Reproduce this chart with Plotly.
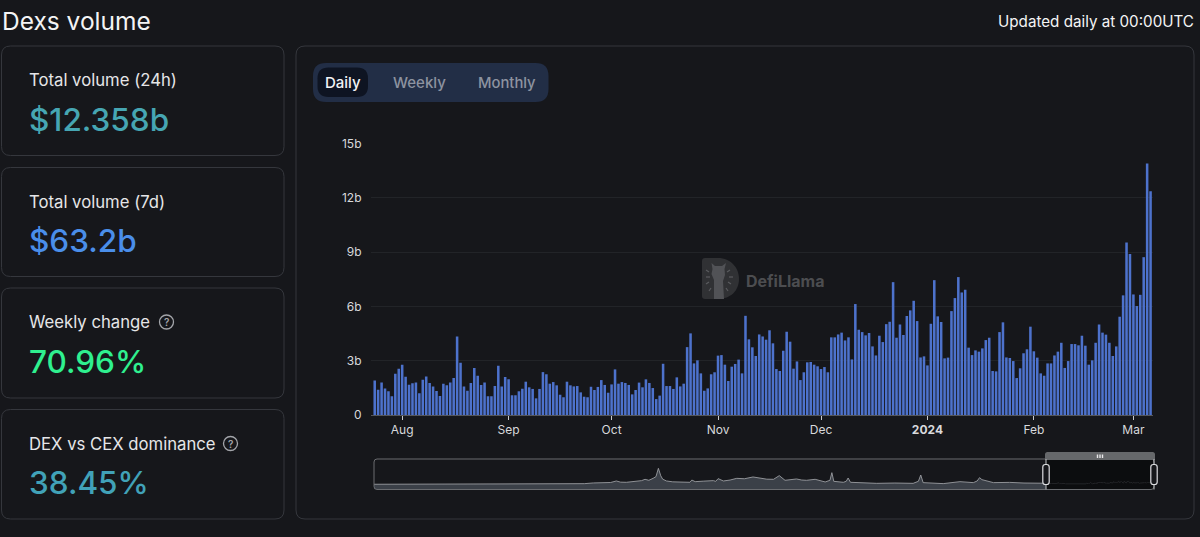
import pandas as pd
import plotly.graph_objects as go

W, H = 1200, 537

# Daily DEX volume in billions of USD, 2023-07-24 to 2024-03-06
volume_jul_oct = [
    1.91, 1.40, 1.79, 1.47, 1.31, 1.03, 2.28, 2.56, 2.78, 2.12, 1.67, 1.75, 1.79, 1.20, 1.95, 2.13,
    1.77, 1.58, 1.33, 1.05, 1.73, 1.64, 1.79, 2.04, 4.34, 2.89, 1.58, 1.34, 1.77, 2.60, 2.17, 1.66,
    1.79, 1.03, 1.03, 1.60, 2.72, 1.58, 2.10, 1.97, 1.09, 1.09, 1.31, 1.45, 1.84, 1.53, 1.44, 0.92,
    1.44, 2.37, 2.25, 1.73, 1.82, 1.64, 1.12, 0.98, 1.84, 1.64, 1.58, 1.60, 1.25, 1.01, 0.98, 1.56,
    1.38, 1.55, 1.93, 1.66, 1.23, 1.69, 2.52, 1.73, 1.82, 1.77, 1.66, 1.14, 1.38, 1.79, 1.53, 1.97,
    1.77, 1.49, 0.88, 1.07, 2.83, 1.60, 1.60, 1.44, 2.08, 1.58, 1.73, 3.75, 4.51, 2.85, 3.02, 2.30,
    1.34, 1.47, 2.25, 2.36,
]
volume_nov_dec = [
    3.28, 3.31, 2.78, 1.88, 2.67, 2.82, 3.06, 2.30, 5.48, 4.18, 3.74, 3.26, 4.45, 4.34, 4.16, 4.68,
    3.96, 2.54, 2.43, 3.55, 4.60, 4.05, 2.56, 2.96, 1.93, 2.36, 2.91, 2.93, 2.78, 2.69, 2.54, 2.65,
    2.36, 4.29, 4.29, 4.45, 4.55, 4.12, 4.29, 3.07, 6.13, 4.71, 4.58, 4.40, 4.53, 3.79, 3.29, 4.38,
    4.03, 5.02, 5.15, 7.34, 4.27, 5.00, 4.42, 5.47, 5.78, 6.31, 5.19, 3.18, 3.24,
]
volume_jan_mar = [
    2.74, 5.04, 7.45, 5.45, 5.14, 3.13, 3.17, 5.74, 6.46, 7.62, 6.77, 6.92, 3.72, 3.31, 3.57, 3.50,
    3.68, 4.14, 4.27, 2.43, 2.41, 4.58, 5.12, 3.18, 3.15, 2.98, 2.04, 2.58, 3.41, 3.63, 4.88, 3.52,
    3.17, 2.30, 2.17, 2.85, 2.85, 3.29, 3.50, 3.99, 2.60, 2.98, 3.92, 3.92, 3.85, 4.38, 3.83, 2.78,
    3.02, 3.99, 5.00, 4.55, 4.44, 3.99, 3.26, 3.79, 5.43, 6.61, 9.53, 8.89, 6.66, 6.02, 6.64, 8.72,
    13.90, 12.358,
]
volume = volume_jul_oct + volume_nov_dec + volume_jan_mar
dates = pd.date_range("2023-07-24", "2024-03-06")
assert len(dates) == len(volume)

# Long-run history for the range selector, days since the start of the series
history_start = pd.Timestamp("2019-09-16")
history_days = [
    0, 315, 322, 440, 459, 480, 495, 507, 516, 528, 548, 560, 567, 575, 584, 590, 595, 600, 604, 612,
    625, 640, 661, 665, 672, 690, 710, 715, 720, 731, 745, 759, 775, 793, 808, 822, 836, 848, 860,
    872, 884, 895, 905, 923, 944, 954, 958, 962, 982, 988, 992, 997, 1020, 1052, 1090, 1128, 1139,
    1144, 1149, 1170, 1191, 1226, 1254, 1262, 1267, 1272, 1296, 1330, 1360, 1406,
]
history_values = [
    0.1, 0.1, 1.2, 1.5, 3.2, 3.9, 4.2, 7.8, 5.0, 4.7, 6.2, 8.6, 11.7, 9.4, 14.0, 18.0, 37.4, 20.0,
    12.0, 7.8, 5.8, 5.5, 4.7, 10.0, 6.2, 7.5, 8.6, 7.0, 13.3, 7.8, 10.0, 14.0, 13.0, 17.2, 14.0,
    12.0, 11.7, 20.3, 9.4, 11.0, 12.5, 10.0, 9.4, 11.7, 5.5, 9.4, 27.3, 7.0, 4.7, 7.0, 14.8, 4.7,
    3.5, 2.3, 3.0, 2.3, 7.0, 21.8, 3.9, 3.0, 1.6, 6.2, 3.9, 7.8, 15.6, 10.9, 3.9, 4.5, 3.0, 2.5,
]
history_dates = [history_start + pd.Timedelta(days=d) for d in history_days]

y_ticks = [0, 3, 6, 9, 12, 15]
y_labels = ["0", "3b", "6b", "9b", "12b", "15b"]
month_ticks = ["2023-08-01", "2023-09-01", "2023-10-01", "2023-11-01", "2023-12-01",
               "2024-01-01", "2024-02-01", "2024-03-01"]
month_labels = ["Aug", "Sep", "Oct", "Nov", "Dec", "<b>2024</b>", "Feb", "Mar"]

cards = [
    ("Total volume (24h)", "$12.358b", "#46a6b3", 46, 155.5),
    ("Total volume (7d)", "$63.2b", "#4a8eea", 167.5, 276.5),
    ("Weekly change", "70.96%", "#2ff08f", 288, 398),
    ("DEX vs CEX dominance", "38.45%", "#41a2b8", 409.5, 519),
]

BG = "#16171b"
BORDER = "#35373d"
FONT = "Inter"


def px(x):
    return x / W


def py(y):
    return 1 - y / H


def rounded(x0, y0, x1, y1, r, corners="all"):
    """SVG path of a rounded box, given in page pixels."""
    rb = 0 if corners == "top" else r
    pts = [
        f"M{px(x0 + r)},{py(y0)}", f"L{px(x1 - r)},{py(y0)}",
        f"Q{px(x1)},{py(y0)} {px(x1)},{py(y0 + r)}",
        f"L{px(x1)},{py(y1 - rb)}", f"Q{px(x1)},{py(y1)} {px(x1 - rb)},{py(y1)}",
        f"L{px(x0 + rb)},{py(y1)}", f"Q{px(x0)},{py(y1)} {px(x0)},{py(y1 - rb)}",
        f"L{px(x0)},{py(y0 + r)}", f"Q{px(x0)},{py(y0)} {px(x0 + r)},{py(y0)}", "Z",
    ]
    return "".join(pts)


def box(x0, y0, x1, y1, r, fill=None, line=None, width=1, layer="below", corners="all"):
    return dict(type="path", xref="paper", yref="paper", path=rounded(x0, y0, x1, y1, r, corners),
                fillcolor=fill or "rgba(0,0,0,0)", line=dict(color=line or "rgba(0,0,0,0)", width=width if line else 0),
                layer=layer)


def polygon(points, fill):
    body = "L".join(f"{px(x)},{py(y)}" for x, y in points)
    return dict(type="path", xref="paper", yref="paper", path=f"M{body}Z", fillcolor=fill,
                line=dict(width=0), layer="below")


def text(x, y, s, size, color, anchor="left", weight=None):
    return dict(xref="paper", yref="paper", x=px(x), y=py(y), text=s, showarrow=False,
                xanchor=anchor, yanchor="middle", align=anchor, borderpad=0,
                font=dict(family=FONT, size=size, color=color, weight=weight))


shapes, notes = [], []

# Page heading
notes.append(text(1, 21, "Dexs volume", 24.5, "#f4f4f5"))
notes.append(text(1195, 21, "Updated daily at 00:00UTC", 15.2, "#f4f4f5", "right"))

# Stat cards on the left
for label, value, colour, top, bottom in cards:
    shapes.append(box(1.5, top, 284, bottom, 9, line=BORDER))
    notes.append(text(28, top + 34, label, 16.7, "#e6e6e8"))
    notes.append(text(27.5, top + 73, value, 31.5, colour, weight=500))

# Help markers beside two of the card labels
for cx, cy in [(166.5, 322), (230.5, 443.5)]:
    shapes.append(dict(type="circle", xref="paper", yref="paper", x0=px(cx - 7), x1=px(cx + 7),
                       y0=py(cy + 7), y1=py(cy - 7), line=dict(color="#a3a5aa", width=1.3), layer="below"))
    notes.append(text(cx, cy, "?", 10, "#a3a5aa", "center", 600))

# Chart panel and period switch
shapes.append(box(296, 46, 1194, 519, 9, line=BORDER))
shapes.append(box(313, 63, 548.5, 102, 13, fill="#222e46"))
shapes.append(box(317.5, 67.5, 368, 97, 11, fill="#0e1422"))
notes.append(text(343, 82.5, "Daily", 15, "#f2f3f5", "center", 500))
notes.append(text(419.5, 82.5, "Weekly", 15, "#8d93a0", "center", 500))
notes.append(text(507, 82.5, "Monthly", 14.8, "#8d93a0", "center", 500))

# Watermark: badge with a llama head and sun rays, then the wordmark
shapes.append(dict(type="path", xref="paper", yref="paper",
                   path=(f"M{px(705)},{py(258)}L{px(718)},{py(258)}"
                         f"C{px(731)},{py(258)} {px(739)},{py(268)} {px(739)},{py(279)}"
                         f"C{px(739)},{py(290)} {px(731)},{py(299)} {px(718)},{py(299)}"
                         f"L{px(705)},{py(299)}Q{px(702)},{py(299)} {px(702)},{py(296)}"
                         f"L{px(702)},{py(261)}Q{px(702)},{py(258)} {px(705)},{py(258)}Z"),
                   fillcolor="#303134", line=dict(width=0), layer="below"))
shapes.append(polygon([(711.5, 263), (715, 266), (722, 266), (726, 263), (724.5, 269), (725, 275),
                       (723, 281), (724, 299), (714, 299), (714, 280), (711.5, 274), (712.5, 269)], "#515256"))
for a, b in [((706, 270), (709, 272)), ((706, 277), (710, 277)), ((706, 284), (709, 282)),
             ((709, 291), (711, 288)), ((730, 270), (727, 272)), ((733, 277), (729, 277)),
             ((731, 284), (728, 282)), ((728, 291), (726, 288))]:
    shapes.append(dict(type="line", xref="paper", yref="paper", x0=px(a[0]), y0=py(a[1]), x1=px(b[0]), y1=py(b[1]),
                       line=dict(color="#5a5b5f", width=1.2), layer="below"))
notes.append(text(745, 280.5, "<b>DefiLlama</b>", 16, "#4c4d50"))

# Range selector frame, selected window and its handles
sel_x0, sel_x1 = 1046, 1154
shapes.append(dict(type="rect", xref="paper", yref="paper", x0=px(sel_x0), x1=px(sel_x1),
                   y0=py(489), y1=py(459.5), fillcolor="#0c0d0f", line=dict(width=0), layer="below"))
shapes.append(box(374, 459, 1154, 489.5, 3, line="#6a6c70", width=1, layer="above"))
shapes.append(box(1045, 452, 1155, 460, 2.5, fill="#66686b", layer="above", corners="top"))
for x in (sel_x0, sel_x1):
    shapes.append(dict(type="line", xref="paper", yref="paper", x0=px(x), x1=px(x), y0=py(459), y1=py(489.5),
                       line=dict(color="#a9abad", width=1.2), layer="above"))
    shapes.append(box(x - 3.2, 464.5, x + 3.2, 484.5, 2.5, fill=BG, line="#dcdde0", width=1.2, layer="above"))
for x in (1097.5, 1100, 1102.5):
    shapes.append(dict(type="rect", xref="paper", yref="paper", x0=px(x - 0.7), x1=px(x + 0.7),
                       y0=py(458), y1=py(454.5), fillcolor="#e8e8ea", line=dict(width=0), layer="above"))

fig = go.Figure()

# Daily volume bars
fig.add_trace(go.Bar(x=dates, y=volume, marker=dict(color="#4d72cc", line=dict(width=0)),
                     xaxis="x", yaxis="y", hoverinfo="x+y"))

# Range selector: filled history up to the window, a dim line inside it
floor_value = -11.7
fig.add_trace(go.Scatter(x=[history_dates[0], history_dates[-1]], y=[floor_value, floor_value], mode="lines",
                         line=dict(width=0), xaxis="x2", yaxis="y2", hoverinfo="skip"))
fig.add_trace(go.Scatter(x=history_dates, y=history_values, mode="lines", fill="tonexty", fillcolor="#3b4048",
                         line=dict(color="#9b9da1", width=0.9), xaxis="x2", yaxis="y2", hoverinfo="skip"))
fig.add_trace(go.Scatter(x=dates, y=volume, mode="lines", line=dict(color="#26272a", width=0.9),
                         xaxis="x2", yaxis="y2", hoverinfo="skip"))

fig.update_layout(
    width=W, height=H, autosize=False, showlegend=False, bargap=0.26,
    margin=dict(l=0, r=0, t=0, b=0, autoexpand=False),
    paper_bgcolor=BG, plot_bgcolor="rgba(0,0,0,0)",
    font=dict(family=FONT, size=12, color="#d8d9dc"),
    shapes=shapes, annotations=notes,
    xaxis=dict(
        domain=[px(370.5), px(1153)], anchor="y", type="date",
        range=["2023-07-22 18:30", "2024-03-06 17:00"],
        tickmode="array", tickvals=month_ticks, ticktext=month_labels,
        ticks="outside", ticklen=4, tickwidth=1, tickcolor="#c9cacd",
        showline=True, linecolor="#55575b", linewidth=1, showgrid=False, zeroline=False,
        tickfont=dict(family=FONT, size=12, color="#d8d9dc"),
    ),
    yaxis=dict(
        domain=[py(415), py(143.5)], anchor="x", range=[0, 15],
        tickmode="array", tickvals=y_ticks, ticktext=y_labels,
        showgrid=True, gridcolor="#222428", gridwidth=1, zeroline=False, showline=False,
        ticks="", ticklabelstandoff=8,
        tickfont=dict(family=FONT, size=12, color="#d8d9dc"),
    ),
    xaxis2=dict(
        domain=[px(374), px(1154)], anchor="y2", type="date",
        range=["2019-09-16", "2024-03-05"], visible=False,
    ),
    yaxis2=dict(domain=[py(489.3), py(459)], anchor="x2", range=[-11.7, 59.3], visible=False),
)

fig.write_html("out.html", config=dict(displayModeBar=False))
